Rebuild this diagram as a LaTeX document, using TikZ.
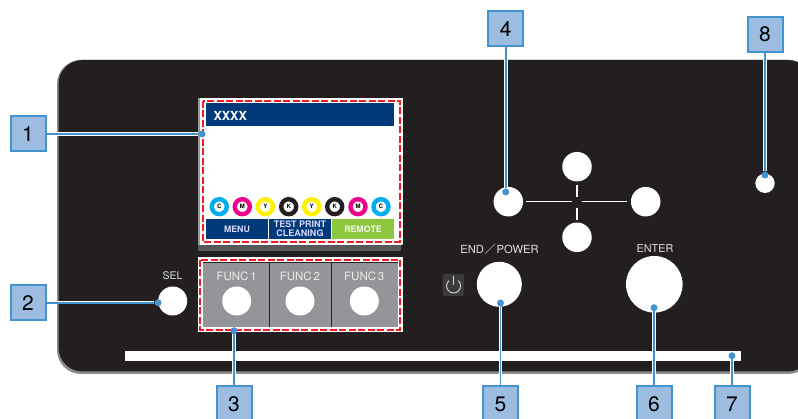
\documentclass[tikz,border=0pt]{standalone}
\usepackage{fontspec}
\setmainfont{TeX Gyre Heros}
\newfontfamily\cjk{Noto Sans CJK JP}
\usetikzlibrary{positioning,calc}
\definecolor{panelink}{HTML}{231F20}
\definecolor{paneledge}{HTML}{8C8C8E}
\definecolor{framegray}{HTML}{9A9B9D}
\definecolor{bandgray}{HTML}{58595B}
\definecolor{tilegray}{HTML}{939598}
\definecolor{navy}{HTML}{003A78}
\definecolor{softgreen}{HTML}{8DC63F}
\definecolor{dashred}{HTML}{ED1C24}
\definecolor{callfill}{HTML}{9DBDE0}
\definecolor{callblue}{HTML}{4293CF}
\definecolor{inkC}{HTML}{00AEEF}
\definecolor{inkM}{HTML}{EC008C}
\definecolor{inkY}{HTML}{FFF200}
\definecolor{inkK}{HTML}{231F20}

\begin{document}
\begin{tikzpicture}[
      x=1pt,y=-1pt,
      callout/.style={draw=callblue,line width=2pt,fill=callfill,minimum size=35pt,
                      inner sep=0pt,font=\fontsize{21}{21}\selectfont,text=black},
      callline/.style={draw=callblue,line width=1.7pt,
                       preaction={draw=white,line width=3.6pt}},
      calldot/.style={circle,fill=callblue,minimum size=7pt,inner sep=0pt},
      btn/.style={circle,fill=white,inner sep=0pt},
      paneltext/.style={text=white!88!black,inner sep=0pt,font=\fontsize{11.5}{11.5}\selectfont},
      softkey/.style={minimum height=20pt,inner sep=0pt,align=center,
                      font=\fontsize{8.8}{8.8}\selectfont\bfseries,text=white!85!blue},
      inkring/.style={circle,fill=white,line width=4.4pt,minimum size=15pt,inner sep=0pt,
                      font=\fontsize{6}{6}\selectfont\bfseries,text=black},
      dashframe/.style={draw=dashred,line width=2.3pt,dash pattern=on 7pt off 2.5pt,
                        preaction={draw=white,solid,line width=5pt}}]
    \path[use as bounding box,clip] (0,0) rectangle (798,419);
    \fill[white] (0,0) rectangle (798,419);
    % panel
    \fill[paneledge,rounded corners=24pt] (57,60) rectangle (812,374);
    \fill[panelink,rounded corners=24pt] (58.5,60) rectangle (812,371.5);
    \fill[white] (125,351) rectangle (740.7,361);
    % screen
    \fill[framegray] (198,98) rectangle (403,245);
    \fill[bandgray] (198,245) rectangle (401,251);
    \fill[white] (199.5,99.5) rectangle (401.5,245);
    \fill[navy] (205.5,103.5) rectangle (394,126);
    \node[anchor=west,inner sep=0pt,text=white,font=\fontsize{12.5}{12.5}\selectfont\bfseries] (title) at (213.3,116) {XXXX};
    \foreach \n/\x/\k in {1/219.3/C,2/242.3/M,3/265.3/Y,4/288.7/K,5/311.7/Y,6/334.7/K,7/358/M,8/381/C}
      \node[inkring,draw=ink\k] (ink\n) at (\x,206.7) {\k};
    \node[softkey,fill=navy,minimum width=62.5pt] (menu) at (237,229) {MENU};
    \node[softkey,fill=navy,minimum width=62pt,font=\fontsize{9}{9}\selectfont\bfseries] (test) at (300,229) {TEST PRINT\\CLEANING};
    \node[softkey,fill=softgreen,minimum width=62pt,text=white!90!softgreen] (remote) at (363,229) {REMOTE};
    \draw[dashframe] (202.7,100.7) rectangle (400,241.7);
    % function keys
    \fill[tilegray] (202.7,262.7) rectangle (398.3,326.7);
    \draw[panelink,line width=0.9pt] (269.3,262.7) -- (269.3,326.7) (331.7,262.7) -- (331.7,326.7);
    \draw[dashframe] (200,260) rectangle (400,330);
    \foreach \n/\x in {1/236.7,2/300,3/364.3}{
      \node[btn,minimum size=29pt] (func\n) at (\x,301) {};
      \node[paneltext,text=white!92!black] (lab\n) at (\x,276) {FUNC\,\n};
    }
    \node[btn,minimum size=29pt] (sel) at (172.7,301) {};
    \node[paneltext,font=\fontsize{10.5}{10.5}\selectfont] (sellab) at (172.5,276) {SEL};
    % jog keys
    \node[btn,minimum size=29.5pt] (up) at (577,166.7) {};
    \node[btn,minimum size=29.5pt] (left) at (508.3,201.7) {};
    \node[btn,minimum size=29.5pt] (right) at (645.7,201.7) {};
    \node[btn,minimum size=29.5pt] (down) at (577,237.3) {};
    \draw[white,line width=1.3pt] (526,201.7) -- (571.7,201.7) (581.7,201.7) -- (627.3,201.7)
      (577,185) -- (577,197) (577,208) -- (577,220);
    \node[btn,minimum size=19.4pt] (lamp) at (765,183.3) {};
    % end and enter
    \node[btn,minimum size=45pt] (endkey) at (499.3,284.3) {};
    \node[btn,minimum size=56.6pt] (enter) at (654.3,284.3) {};
    \node[paneltext,font=\fontsize{11.2}{11.2}\selectfont] (endlab) at (499.5,249) {END\kern.7pt{\cjk／}\kern.7pt POWER};
    \node[paneltext,font=\fontsize{10.8}{10.8}\selectfont] (enterlab) at (655,249) {ENTER};
    \fill[white!12!panelink,rounded corners=2pt] (442.7,274) rectangle (464,296);
    \draw[white!85!black,line width=0.9pt] (449.1,280.6) arc[start angle=130,end angle=410,radius=7pt];
    \draw[white!85!black,line width=0.9pt] (453.6,276.5) -- (453.6,285.5);
    % callouts
    \node[callout] (call1) at (28,134) {1};
    \node[callout] (call2) at (28,302.7) {2};
    \node[callout] (call3) at (234,404) {3};
    \node[callout] (call4) at (505.7,29) {4};
    \node[callout] (call5) at (500.5,404) {5};
    \node[callout] (call6) at (654,404) {6};
    \node[callout] (call7) at (732,404) {7};
    \node[callout] (call8) at (765,34.7) {8};
    \node[calldot] (dot1) at (202,134) {};
    \node[calldot] (dot2) at (158,302.7) {};
    \node[calldot] (dot3) at (234,330.7) {};
    \node[calldot] (dot4) at (505.7,192) {};
    \node[calldot] (dot5) at (500.5,303) {};
    \node[calldot] (dot6) at (654,307.7) {};
    \node[calldot] (dot7) at (732,355.7) {};
    \node[calldot] (dot8) at (765,175) {};
    \draw[callline] (call1) -- (dot1);
    \draw[callline] (call2) -- (dot2);
    \draw[callline] (call3) -- (dot3);
    \draw[callline] (call4) -- (dot4);
    \draw[callline] (call5) -- (dot5);
    \draw[callline] (call6) -- (dot6);
    \draw[callline] (call7) -- (dot7);
    \draw[callline] (call8) -- (dot8);
  \end{tikzpicture}
\end{document}
